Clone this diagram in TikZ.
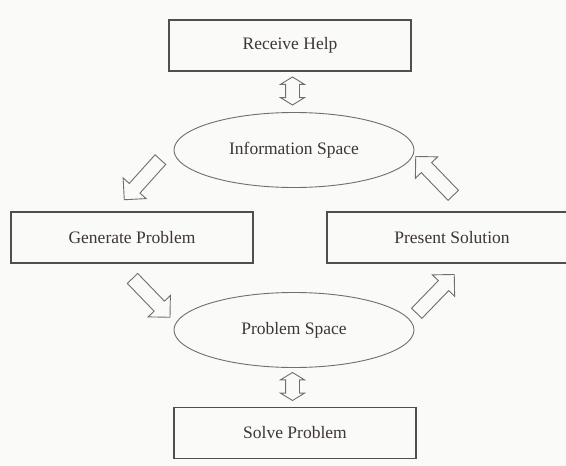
\documentclass[tikz,border=0pt]{standalone}
\usepackage{fontspec}
\setmainfont{Liberation Serif}
\usepackage{tikz}
\definecolor{paper}{RGB}{250,250,248}
\definecolor{boxgray}{RGB}{80,78,78}
\definecolor{linegray}{RGB}{112,110,110}
\definecolor{inkgray}{RGB}{62,54,54}
\usetikzlibrary{shapes.geometric, shapes.arrows}

\begin{document}
\begin{tikzpicture}[x=1pt, y=-1pt,
        box/.style={draw=boxgray, line width=1.4pt, minimum width=242pt, minimum height=51pt, text=inkgray},
        space/.style={ellipse, draw=linegray, line width=0.9pt, minimum width=240pt, minimum height=75pt, text=inkgray},
        flow/.style={single arrow, draw=linegray, fill=paper, line width=0.9pt, inner xsep=0pt, inner ysep=6.75pt,
            single arrow head extend=8.25pt, minimum width=0pt, minimum height=54pt},
        swap/.style={double arrow, draw=linegray, fill=paper, line width=0.9pt, inner xsep=0pt, inner ysep=6.5pt,
            double arrow head extend=5pt, double arrow tip angle=117, minimum width=0pt, minimum height=28pt, rotate=90},
        font=\fontsize{17.5}{21}\selectfont]
        %Hintergrund
        \path[use as bounding box, fill=paper] (0,0) rectangle (566,466);
        \clip (0,0) rectangle (566,466);
        % Kaesten zeichnen
        \node[box] (help) at (290,45.5) {Receive Help};
        \node[box] (gen) at (132,237.5) {Generate Problem};
        \node[box, minimum width=250pt] (present) at (452,237.5) {Present Solution};
        \node[box] (solve) at (295,433) {Solve Problem};
        % Ellipsen
        \node[space] (info) at (294,150) {Information Space};
        \node[space] (prob) at (294,330) {Problem Space};
        % Pfeile
        \node[swap] (helpinfo) at (292.5,91) {};
        \node[swap] (probsolve) at (292.5,386.5) {};
        \node[flow, rotate=228] (infogen) at (144.75,177) {};
        \node[flow, rotate=314] (genprob) at (148.75,295.25) {};
        \node[flow, rotate=46] (probpresent) at (433,296.5) {};
        \node[flow, rotate=134] (presentinfo) at (437,178.5) {};
\end{tikzpicture}
\end{document}
